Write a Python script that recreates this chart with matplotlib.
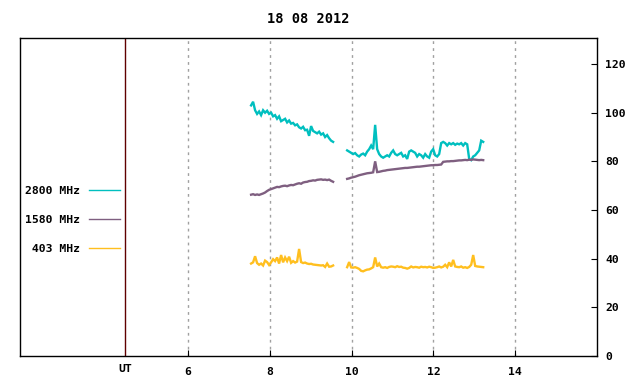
"""Solar radio flux, 18 08 2012."""
import numpy as np
import matplotlib
matplotlib.use('Agg')
import matplotlib.pyplot as plt
from matplotlib.lines import Line2D
from matplotlib.transforms import blended_transform_factory

# two recording intervals (UT hours)
seg1_start, seg1_end = 7.541, 9.547
seg2_start, seg2_end = 9.890, 13.217

f2800_seg1 = [103, 104.5, 101, 99.5, 100.5, 99, 101, 100, 100.8, 99.5, 100,
              98.5, 99, 97.5, 98.5, 96.5, 97, 97.5, 96, 96.8, 95.5, 95.8,
              94.8, 95.2, 94, 93.5, 94.2, 92.8, 93, 90.5, 94.5, 92.5, 92,
              91.5, 92.2, 91, 91.5, 90, 90.8, 89.5, 88.5, 88]
f2800_seg2 = [84.5, 84, 83.5, 83, 83.4, 82.5, 82, 82.8, 83.2, 82.5, 84, 85,
              86.5, 85, 95, 85, 83, 82, 81.5, 82, 82.5, 82, 83.5, 84.5, 83,
              82.5, 83, 83.5, 82, 82.5, 81, 84, 84.5, 84, 83.5, 82, 83, 82.5,
              81.5, 83, 82, 81.5, 84, 85, 82.5, 82, 83, 87.5, 88, 87.5, 86.5,
              87.5, 87, 87.5, 86.8, 87.3, 87, 87.5, 86.5, 87.5, 87, 81, 80.5,
              82, 82.5, 83.5, 84.5, 88.5, 88]

f1580_seg1 = [66.3, 66.5, 66.2, 66.4, 66.2, 66.5, 66.8, 67.2, 67.8, 68.3,
              68.6, 68.9, 69.2, 69.5, 69.4, 69.7, 69.9, 70, 69.8, 70.1, 70.3,
              70.2, 70.5, 70.8, 71, 70.8, 71.3, 71.5, 71.6, 71.9, 72, 72.2,
              72.1, 72.4, 72.5, 72.6, 72.4, 72.5, 72.3, 72.5, 72, 71.6]
f1580_seg2 = [72.8, 73, 73.3, 73.5, 73.7, 74, 74.3, 74.5, 74.7, 74.9, 75.1,
              75.2, 75.3, 75.5, 80, 75.6, 75.7, 75.9, 76.1, 76.2, 76.4, 76.5,
              76.6, 76.7, 76.8, 76.9, 77, 77.1, 77.2, 77.3, 77.3, 77.4, 77.5,
              77.6, 77.7, 77.8, 77.8, 77.9, 78, 78.1, 78.2, 78.3, 78.4, 78.4,
              78.5, 78.5, 78.6, 78.7, 79.8, 79.9, 80, 80, 80.1, 80.1, 80.2,
              80.3, 80.4, 80.4, 80.5, 80.6, 80.5, 80.7, 80.6, 80.8, 80.7,
              80.6, 80.5, 80.6, 80.5]

f403_seg1 = [38, 38.5, 41, 38.2, 37.5, 38, 37.2, 39.2, 38.6, 37.4, 38.5,
             39.8, 39, 40.5, 38, 41.5, 38.5, 40.5, 39, 40.8, 38.3, 39, 38.4,
             38.8, 44, 38.6, 38.2, 38.4, 38, 37.8, 37.9, 37.6, 37.5, 37.4,
             37.3, 37.2, 37.3, 36.6, 38, 36.7, 36.8, 37.2]
f403_seg2 = [36.5, 38.6, 36.4, 36.3, 36.5, 36.2, 35.8, 35, 34.8, 35.2, 35.5,
             35.6, 36, 36.5, 40.5, 36.8, 38, 36.5, 36.3, 36.5, 36.2, 36.6,
             36.8, 36.7, 36.5, 36.9, 36.6, 36.7, 36.3, 36.2, 35.9, 36.2, 36.8,
             36.4, 36.6, 36.5, 36.3, 36.7, 36.5, 36.6, 36.4, 36.7, 36.5, 36.2,
             36.3, 36.5, 36.8, 36.4, 36.7, 37.5, 36.5, 38.5, 36.8, 39.5, 36.8,
             36.6, 36.5, 36.8, 36.3, 36.5, 36.2, 36.6, 37.5, 41.5, 37, 36.8,
             36.7, 36.6, 36.5]

series = [
    ('2800 MHz', '#00bfbf', f2800_seg1, f2800_seg2),
    ('1580 MHz', '#7f5f80', f1580_seg1, f1580_seg2),
    (' 403 MHz', '#ffbf1f', f403_seg1, f403_seg2),
]

hour_ticks = [6, 8, 10, 12, 14]
ut_pos = 4.459
y_ticks = [0, 20, 40, 60, 80, 100, 120]

plt.rcParams['font.family'] = ['DejaVu Sans Mono']
plt.rcParams['font.weight'] = 'bold'
plt.rcParams['font.size'] = 8.2

fig = plt.figure(figsize=(6.4, 3.84), dpi=100)
ax = fig.add_axes([20 / 640, 1 - 356 / 384, 577 / 640, 318 / 384])

handles = []
for label, color, v1, v2 in series:
    t1 = np.linspace(seg1_start, seg1_end, len(v1))
    t2 = np.linspace(seg2_start, seg2_end, len(v2))
    ax.plot(t1, v1, color=color, lw=1.7, solid_joinstyle='miter')
    ax.plot(t2, v2, color=color, lw=1.7, solid_joinstyle='miter')
    handles.append(Line2D([], [], color=color, lw=1.0, label=label))

ax.set_xlim(1.89, 16.0)
ax.set_ylim(0, 130.7)

ax.set_xticks(hour_ticks)
ax.set_xticklabels([str(h) for h in hour_ticks])
for h in hour_ticks:
    ax.axvline(h, color='#a0a0a0', lw=1, ls=(0, (2, 3)), zorder=0)
ax.axvline(ut_pos, color='#600000', lw=1)

trans = blended_transform_factory(ax.transData, ax.transAxes)
ax.text(ut_pos, -0.04, 'UT', transform=trans, ha='center', va='center')

ax.yaxis.tick_right()
ax.set_yticks(y_ticks)
ax.tick_params(axis='x', direction='in', length=4, pad=8, top=False)
ax.tick_params(axis='y', direction='in', length=4, pad=6, left=False)

for s in ax.spines.values():
    s.set_linewidth(1)
    s.set_color('black')

ax.set_title('18 08 2012', pad=11, fontweight='bold')

ax.legend(handles=handles, markerfirst=False, frameon=False,
          handlelength=2.8, handletextpad=0.75, labelspacing=1.68,
          loc='upper left', bbox_to_anchor=(25 / 640, 1 - 186 / 384),
          bbox_transform=fig.transFigure, borderpad=0, borderaxespad=0)

fig.savefig('out.png', dpi=100)
